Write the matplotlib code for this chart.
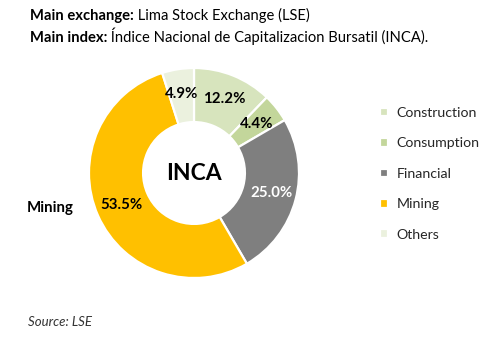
import matplotlib
matplotlib.use("Agg")
import matplotlib.pyplot as plt

plt.rcParams["font.family"] = ["Lato", "DejaVu Sans"]

# Sector weights of the INCA index (%)
sectors = ["Construction", "Consumption", "Financial", "Mining", "Others"]
weights = [12.2, 4.4, 25.0, 53.5, 4.9]
colors = ["#d7e4bd", "#c3d69b", "#7f7f7f", "#ffc000", "#ebf1de"]
label_colors = ["#000000", "#000000", "#ffffff", "#000000", "#000000"]

W, H = 500, 347
fig = plt.figure(figsize=(W / 100, H / 100), dpi=100)

# Donut axes, positioned in pixel units
cx, cy, R = 194, 173, 105
ax = fig.add_axes([(cx - R) / W, (H - cy - R) / H, 2 * R / W, 2 * R / H])
wedges, texts, autotexts = ax.pie(
    weights,
    colors=colors,
    startangle=90,
    counterclock=False,
    radius=1.0,
    autopct="%.1f%%",
    pctdistance=0.76,
    wedgeprops=dict(width=0.515, edgecolor="white", linewidth=1.6),
    textprops=dict(fontsize=10.8, fontweight="bold"),
)
for t, c in zip(autotexts, label_colors):
    t.set_color(c)
ax.set_xlim(-1, 1)
ax.set_ylim(-1, 1)
ax.set_aspect("equal")
ax.axis("off")

ax.text(0, 0, "INCA", ha="center", va="center", fontsize=16.5,
        fontweight="bold", color="#000000")

# Outside category label for the largest slice
fig.text(27 / W, 1 - 208 / H, "Mining", ha="left", va="center",
         fontsize=10.8, fontweight="bold", color="#000000")

# Legend
fig.legend(
    wedges, sectors,
    loc="upper left", bbox_to_anchor=(380 / W, 1 - 107 / H),
    frameon=False, fontsize=10.2, labelcolor="#262626",
    handlelength=0.55, handleheight=0.55, handletextpad=0.6,
    labelspacing=1.3, borderpad=0, borderaxespad=0,
)

# Header lines: bold lead-in followed by regular text
renderer = fig.canvas.get_renderer()
header = [("Main exchange:", " Lima Stock Exchange (LSE)", 20),
          ("Main index:", " Índice Nacional de Capitalizacion Bursatil (INCA).", 42)]
for bold, rest, base in header:
    t1 = fig.text(30 / W, 1 - base / H, bold, ha="left", va="baseline",
                  fontsize=10.65, fontweight="bold", color="#000000")
    bb = t1.get_window_extent(renderer)
    fig.text(bb.x1 / W, 1 - base / H, rest, ha="left", va="baseline",
             fontsize=10.65, color="#000000")

fig.text(28 / W, 1 - 322 / H, "Source: LSE", ha="left", va="center",
         fontsize=9.5, style="italic", color="#333333")

fig.savefig("out.png", dpi=100, facecolor="white")
